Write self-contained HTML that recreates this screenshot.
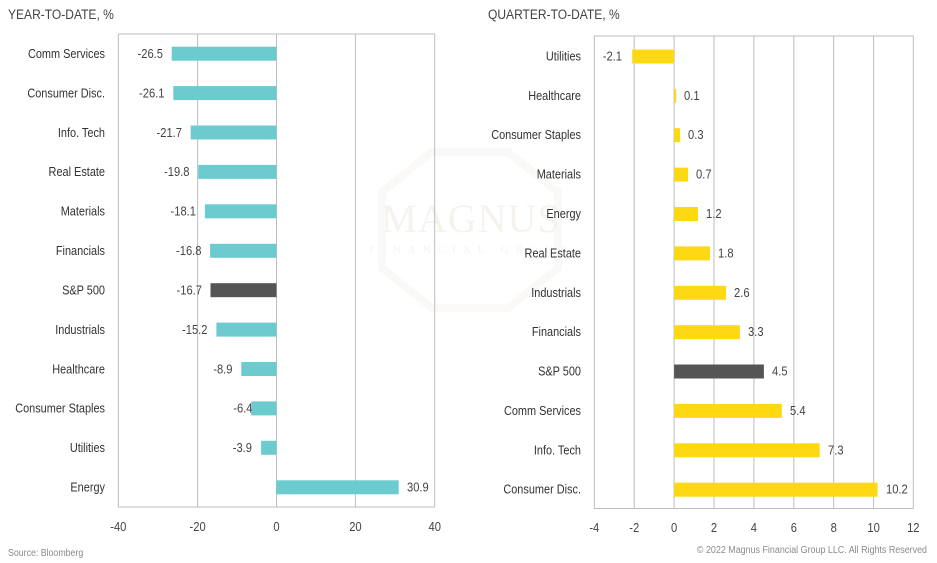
<!DOCTYPE html>
<html><head><meta charset="utf-8"><style>
html,body{margin:0;padding:0;background:#fff;}
svg{display:block;}
text{font-family:"Liberation Sans",sans-serif;}
</style></head><body>
<svg width="937" height="563" viewBox="0 0 937 563" xmlns="http://www.w3.org/2000/svg">
<!-- watermark -->
<g opacity="0.3">
<polygon points="432,152 508,152 558,192 558,268 508,308 432,308 382,268 382,192" fill="none" stroke="#f2ede5" stroke-width="8"/>
<text x="471" y="232" text-anchor="middle" style="font-family:'Liberation Serif',serif" font-size="40" letter-spacing="1" fill="#e2dacd">MAGNUS</text>
<text x="471" y="253" text-anchor="middle" style="font-family:'Liberation Serif',serif" font-size="11" letter-spacing="7" fill="#e2dacd">FINANCIAL GROUP</text>
</g>

<!-- titles -->
<text transform="translate(8,19) scale(0.86,1)" font-size="14" fill="#444">YEAR-TO-DATE, %</text>
<text transform="translate(488,19) scale(0.86,1)" font-size="14" fill="#444">QUARTER-TO-DATE, %</text>

<!-- LEFT CHART -->
<g stroke="#bdbdbd" stroke-width="1" fill="none">
<line x1="197.6" y1="34" x2="197.6" y2="507"/>
<line x1="276.5" y1="34" x2="276.5" y2="507"/>
<line x1="355.4" y1="34" x2="355.4" y2="507"/>
<rect x="118.3" y="34" width="316.4" height="473"/>
</g>
<g font-size="13" fill="#333" text-anchor="end">
<text transform="translate(105,58) scale(0.84,1)">Comm Services</text>
<text transform="translate(105,97.4) scale(0.84,1)">Consumer Disc.</text>
<text transform="translate(105,136.8) scale(0.84,1)">Info. Tech</text>
<text transform="translate(105,176.2) scale(0.84,1)">Real Estate</text>
<text transform="translate(105,215.6) scale(0.84,1)">Materials</text>
<text transform="translate(105,255.1) scale(0.84,1)">Financials</text>
<text transform="translate(105,294.5) scale(0.84,1)">S&amp;P 500</text>
<text transform="translate(105,333.9) scale(0.84,1)">Industrials</text>
<text transform="translate(105,373.3) scale(0.84,1)">Healthcare</text>
<text transform="translate(105,412.7) scale(0.84,1)">Consumer Staples</text>
<text transform="translate(105,452.1) scale(0.84,1)">Utilities</text>
<text transform="translate(105,491.6) scale(0.84,1)">Energy</text>
</g>
<g fill="#6ccbcf">
<rect x="171.7" y="46.7" width="104.8" height="14"/>
<rect x="173.3" y="86.1" width="103.2" height="14"/>
<rect x="190.7" y="125.5" width="85.8" height="14"/>
<rect x="198.2" y="164.9" width="78.3" height="14"/>
<rect x="204.9" y="204.3" width="71.6" height="14"/>
<rect x="210.1" y="243.8" width="66.4" height="14"/>
<rect x="216.4" y="322.6" width="60.1" height="14"/>
<rect x="241.3" y="362.0" width="35.2" height="14"/>
<rect x="251.2" y="401.4" width="25.3" height="14"/>
<rect x="261.1" y="440.8" width="15.4" height="14"/>
<rect x="276.5" y="480.3" width="122.2" height="14"/>
</g>
<rect x="210.5" y="283.2" width="66" height="14" fill="#555"/>
<g font-size="13" fill="#444" text-anchor="end">
<text transform="translate(163,58) scale(0.86,1)">-26.5</text>
<text transform="translate(164.5,97.4) scale(0.86,1)">-26.1</text>
<text transform="translate(182,136.8) scale(0.86,1)">-21.7</text>
<text transform="translate(189.5,176.2) scale(0.86,1)">-19.8</text>
<text transform="translate(196,215.6) scale(0.86,1)">-18.1</text>
<text transform="translate(201.5,255.1) scale(0.86,1)">-16.8</text>
<text transform="translate(202,294.5) scale(0.86,1)">-16.7</text>
<text transform="translate(207.5,333.9) scale(0.86,1)">-15.2</text>
<text transform="translate(232.5,373.3) scale(0.86,1)">-8.9</text>
<text transform="translate(252.5,412.7) scale(0.86,1)">-6.4</text>
<text transform="translate(252,452.1) scale(0.86,1)">-3.9</text>
</g>
<text transform="translate(407,491.6) scale(0.86,1)" font-size="13" fill="#444">30.9</text>
<g font-size="13" fill="#444" text-anchor="middle">
<text transform="translate(118.3,531) scale(0.86,1)">-40</text>
<text transform="translate(197.6,531) scale(0.86,1)">-20</text>
<text transform="translate(276.5,531) scale(0.86,1)">0</text>
<text transform="translate(355.4,531) scale(0.86,1)">20</text>
<text transform="translate(434.7,531) scale(0.86,1)">40</text>
</g>

<!-- RIGHT CHART -->
<g stroke="#bdbdbd" stroke-width="1" fill="none">
<line x1="634.2" y1="36" x2="634.2" y2="508.5"/>
<line x1="674.1" y1="36" x2="674.1" y2="508.5"/>
<line x1="714.0" y1="36" x2="714.0" y2="508.5"/>
<line x1="753.9" y1="36" x2="753.9" y2="508.5"/>
<line x1="793.8" y1="36" x2="793.8" y2="508.5"/>
<line x1="833.7" y1="36" x2="833.7" y2="508.5"/>
<line x1="873.6" y1="36" x2="873.6" y2="508.5"/>
<rect x="594.3" y="36" width="319" height="472.5"/>
</g>
<g font-size="13" fill="#333" text-anchor="end">
<text transform="translate(581,60.5) scale(0.84,1)">Utilities</text>
<text transform="translate(581,99.9) scale(0.84,1)">Healthcare</text>
<text transform="translate(581,139.2) scale(0.84,1)">Consumer Staples</text>
<text transform="translate(581,178.6) scale(0.84,1)">Materials</text>
<text transform="translate(581,218.0) scale(0.84,1)">Energy</text>
<text transform="translate(581,257.4) scale(0.84,1)">Real Estate</text>
<text transform="translate(581,296.8) scale(0.84,1)">Industrials</text>
<text transform="translate(581,336.2) scale(0.84,1)">Financials</text>
<text transform="translate(581,375.5) scale(0.84,1)">S&amp;P 500</text>
<text transform="translate(581,414.9) scale(0.84,1)">Comm Services</text>
<text transform="translate(581,454.3) scale(0.84,1)">Info. Tech</text>
<text transform="translate(581,493.7) scale(0.84,1)">Consumer Disc.</text>
</g>
<g fill="#ffd814">
<rect x="632.2" y="49.5" width="41.9" height="14"/>
<rect x="674.1" y="88.9" width="2" height="14"/>
<rect x="674.1" y="128.2" width="6" height="14"/>
<rect x="674.1" y="167.6" width="14" height="14"/>
<rect x="674.1" y="207.0" width="23.9" height="14"/>
<rect x="674.1" y="246.4" width="35.9" height="14"/>
<rect x="674.1" y="285.8" width="51.9" height="14"/>
<rect x="674.1" y="325.2" width="65.8" height="14"/>
<rect x="674.1" y="403.9" width="107.7" height="14"/>
<rect x="674.1" y="443.3" width="145.6" height="14"/>
<rect x="674.1" y="482.7" width="203.5" height="14"/>
</g>
<rect x="674.1" y="364.5" width="89.8" height="14" fill="#555"/>
<text transform="translate(622,60.5) scale(0.86,1)" font-size="13" fill="#444" text-anchor="end">-2.1</text>
<g font-size="13" fill="#444">
<text transform="translate(684,99.9) scale(0.86,1)">0.1</text>
<text transform="translate(688,139.2) scale(0.86,1)">0.3</text>
<text transform="translate(696,178.6) scale(0.86,1)">0.7</text>
<text transform="translate(706,218.0) scale(0.86,1)">1.2</text>
<text transform="translate(718,257.4) scale(0.86,1)">1.8</text>
<text transform="translate(734,296.8) scale(0.86,1)">2.6</text>
<text transform="translate(748,336.2) scale(0.86,1)">3.3</text>
<text transform="translate(772,375.5) scale(0.86,1)">4.5</text>
<text transform="translate(790,414.9) scale(0.86,1)">5.4</text>
<text transform="translate(828,454.3) scale(0.86,1)">7.3</text>
<text transform="translate(886,493.7) scale(0.86,1)">10.2</text>
</g>
<g font-size="13" fill="#444" text-anchor="middle">
<text transform="translate(594.3,532) scale(0.86,1)">-4</text>
<text transform="translate(634.2,532) scale(0.86,1)">-2</text>
<text transform="translate(674.1,532) scale(0.86,1)">0</text>
<text transform="translate(714.0,532) scale(0.86,1)">2</text>
<text transform="translate(753.9,532) scale(0.86,1)">4</text>
<text transform="translate(793.8,532) scale(0.86,1)">6</text>
<text transform="translate(833.7,532) scale(0.86,1)">8</text>
<text transform="translate(873.6,532) scale(0.86,1)">10</text>
<text transform="translate(913.3,532) scale(0.86,1)">12</text>
</g>

<!-- footers -->
<text transform="translate(8,556) scale(0.88,1)" font-size="10" fill="#8a8a8a">Source: Bloomberg</text>
<text transform="translate(927,553) scale(0.85,1)" font-size="10.5" fill="#8a8a8a" text-anchor="end">© 2022 Magnus Financial Group LLC. All Rights Reserved</text>
</svg>
</body></html>
